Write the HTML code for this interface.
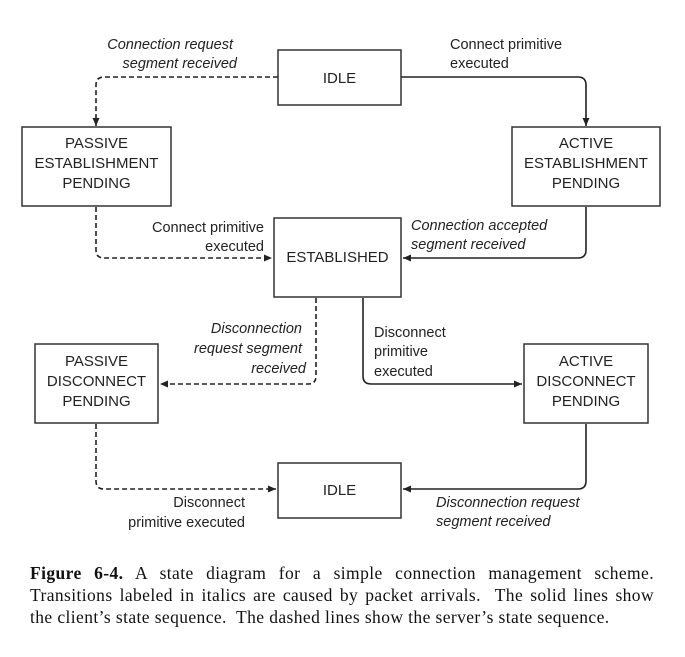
<!DOCTYPE html>
<html><head><meta charset="utf-8"><style>
body{margin:0;background:#fff;width:685px;height:657px;overflow:hidden}
svg text{font-family:"Liberation Sans",sans-serif;font-size:14.5px;fill:#222}
.b{font-size:15px}
.i{font-style:italic}
.cap{position:absolute;left:30px;width:624px;font-family:"Liberation Serif",serif;font-size:17.5px;letter-spacing:0.4px;line-height:22px;color:#111;white-space:nowrap}
.j{text-align:justify;text-align-last:justify}
</style></head><body>
<svg width="685" height="657" style="position:absolute;left:0;top:0">
<defs><marker id="a" markerWidth="10" markerHeight="10" refX="8" refY="4.5" orient="auto" markerUnits="userSpaceOnUse"><path d="M0,1 L8,4.5 L0,8 z" fill="#222"/></marker></defs>
<g fill="none" stroke="#333" stroke-width="1.5">
<rect x="278" y="50" width="123" height="55"/>
<rect x="22" y="127" width="149" height="79"/>
<rect x="512" y="127" width="148" height="79"/>
<rect x="274" y="218" width="127" height="79"/>
<rect x="35" y="344" width="123" height="79"/>
<rect x="524" y="344" width="124" height="79"/>
<rect x="278" y="463" width="123" height="55"/>
</g>
<g fill="none" stroke="#222" stroke-width="1.6">
<path d="M278,77 H104 Q96,77 96,85 V126" stroke-dasharray="5,3" marker-end="url(#a)"/>
<path d="M401,77 H578 Q586,77 586,85 V126" marker-end="url(#a)"/>
<path d="M96,207 V250 Q96,258 104,258 H272" stroke-dasharray="5,3" marker-end="url(#a)"/>
<path d="M586,207 V250 Q586,258 578,258 H403" marker-end="url(#a)"/>
<path d="M316,298 V376 Q316,384 308,384 H160" stroke-dasharray="5,3" marker-end="url(#a)"/>
<path d="M363,298 V376 Q363,384 371,384 H522" marker-end="url(#a)"/>
<path d="M96,424 V481 Q96,489 104,489 H276" stroke-dasharray="5,3" marker-end="url(#a)"/>
<path d="M586,424 V481 Q586,489 578,489 H403" marker-end="url(#a)"/>
</g>
<g class="b" text-anchor="middle">
<text class="b" x="339.5" y="83">IDLE</text>
<text class="b" x="96.5" y="148">PASSIVE</text><text class="b" x="96.5" y="168">ESTABLISHMENT</text><text class="b" x="96.5" y="188">PENDING</text>
<text class="b" x="586" y="148">ACTIVE</text><text class="b" x="586" y="168">ESTABLISHMENT</text><text class="b" x="586" y="188">PENDING</text>
<text class="b" x="337.5" y="262">ESTABLISHED</text>
<text class="b" x="96.5" y="366">PASSIVE</text><text class="b" x="96.5" y="386">DISCONNECT</text><text class="b" x="96.5" y="406">PENDING</text>
<text class="b" x="586" y="366">ACTIVE</text><text class="b" x="586" y="386">DISCONNECT</text><text class="b" x="586" y="406">PENDING</text>
<text class="b" x="339.5" y="495">IDLE</text>
</g>
<g text-anchor="end">
<text class="i" x="233" y="49">Connection request</text><text class="i" x="237" y="68">segment received</text>
<text x="264" y="232">Connect primitive</text><text x="264" y="251">executed</text>
<text class="i" x="302" y="333">Disconnection</text><text class="i" x="302" y="353">request segment</text><text class="i" x="306" y="373">received</text>
<text x="245" y="507">Disconnect</text><text x="245" y="527">primitive executed</text>
</g>
<g>
<text x="450" y="49">Connect primitive</text><text x="450" y="68">executed</text>
<text class="i" x="411" y="230">Connection accepted</text><text class="i" x="411" y="249">segment received</text>
<text x="374" y="337">Disconnect</text><text x="374" y="356">primitive</text><text x="374" y="376">executed</text>
<text class="i" x="436" y="507">Disconnection request</text><text class="i" x="436" y="526">segment received</text>
</g>
</svg>
<div class="cap j" style="top:562px"><b>Figure 6-4.</b> A state diagram for a simple connection management scheme.</div>
<div class="cap j" style="top:584px">Transitions labeled in italics are caused by packet arrivals.&nbsp; The solid lines show</div>
<div class="cap" style="top:606px">the client’s state sequence.&nbsp; The dashed lines show the server’s state sequence.</div>
</body></html>
